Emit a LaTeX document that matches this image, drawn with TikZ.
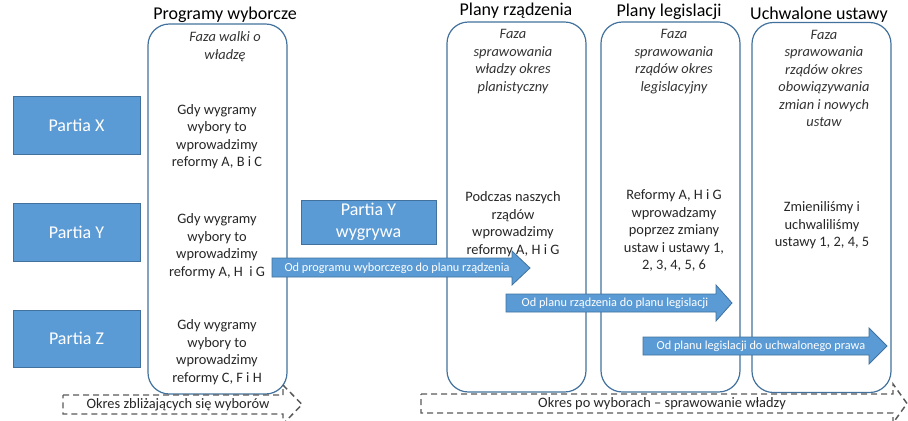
\documentclass[tikz,border=0pt]{standalone}
\usepackage{fontspec}
\setmainfont{Carlito}
\usepackage{xcolor}
\definecolor{boxblue}{RGB}{91,155,213}
\definecolor{lineblue}{RGB}{65,113,156}
\definecolor{dashgray}{RGB}{89,89,89}

\begin{document}
\begin{tikzpicture}[x=0.75pt,y=-0.75pt,
              party/.style={draw=lineblue,fill=boxblue,text=white,align=center,
                font=\fontsize{13.5}{16.5}\selectfont},
              column/.style={draw=lineblue,line width=0.9pt,rounded corners=16pt,
                minimum width=104.25pt,minimum height=277.5pt},
              title/.style={font=\fontsize{13.5}{16}\selectfont},
              phase/.style={align=center,text=black!80,font=\fontsize{10.8}{13.1}\selectfont\itshape},
              body/.style={align=center,text=black!85,font=\fontsize{10.8}{13.1}\selectfont},
              blockarrow/.style={draw=lineblue,fill=boxblue,line width=0.6pt},
              arrowtext/.style={text=white,font=\fontsize{9.2}{11}\selectfont},
              period/.style={draw=dashgray,line width=1.1pt,dash pattern=on 4.5pt off 3pt},
              periodtext/.style={text=black!85,font=\fontsize{10.8}{13.1}\selectfont}]
              \useasboundingbox (0,0) rectangle (908,421);

              \node[column] (K1) at (217.5,209)   {};
              \node[column] (K2) at (516.5,207)   {};
              \node[column] (K3) at (670.5,207)   {};
              \node[column] (K4) at (821.5,207.5) {};

              \node[title] (T1) at (225,15) {Programy wyborcze};
              \node[title] (T2) at (516,11) {Plany rządzenia};
              \node[title] (T3) at (669,12) {Plany legislacji};
              \node[title] (T4) at (819,15) {Uchwalone ustawy};

              \node[phase] (F1) at (225,46.5) {Faza walki o\\władzę};
              \node[phase] (F2) at (513,61.5) {Faza\\sprawowania\\władzy okres\\planistyczny};
              \node[phase] (F3) at (674,61.5) {Faza\\sprawowania\\rządów okres\\legislacyjny};
              \node[phase] (F4) at (824,78.5) {Faza\\sprawowania\\rządów okres\\obowiązywania\\zmian i nowych\\ustaw};

              \node[party,minimum width=95.25pt,minimum height=43.5pt] (P1) at (76.5,125)   {Partia X};
              \node[party,minimum width=95.25pt,minimum height=43.5pt] (P2) at (76.5,232)   {Partia Y};
              \node[party,minimum width=95.25pt,minimum height=42.75pt] (P3) at (76.5,338.5) {Partia Z};
              \node[party,minimum width=101.25pt,minimum height=33pt,inner sep=1pt] (W) at (368.5,222) {Partia Y\\wygrywa};

              \node[body] (R1) at (217,136.5) {Gdy wygramy\\wybory to\\wprowadzimy\\reformy A, B i C};
              \node[body] (R2) at (217,246)   {Gdy wygramy\\wybory to\\wprowadzimy\\reformy A, H~~i G};
              \node[body] (R3) at (217,352)   {Gdy wygramy\\wybory to\\wprowadzimy\\reformy C, F i H};
              \node[body] (R4) at (513,224)   {Podczas naszych\\rządów\\wprowadzimy\\reformy A, H i G};
              \node[body] (R5) at (674,230.5) {Reformy A, H i G\\wprowadzamy\\poprzez zmiany\\ustaw i ustawy 1,\\2, 3, 4, 5, 6};
              \node[body] (R6) at (822,225.5) {Zmieniliśmy i\\uchwaliliśmy\\ustawy 1, 2, 4, 5};

              \draw[blockarrow] (272,258) -- (512,258) -- (512,251) -- (530,268) -- (512,285) -- (512,277) -- (272,277) -- cycle;
              \draw[blockarrow] (506,294) -- (716,294) -- (716,285) -- (732,303) -- (716,321) -- (716,312) -- (506,312) -- cycle;
              \draw[blockarrow] (643,337) -- (869,337) -- (869,328) -- (887,346) -- (869,364) -- (869,355) -- (643,355) -- cycle;
              \node[arrowtext] (A1) at (397,268) {Od programu wyborczego do planu rządzenia};
              \node[arrowtext] (A2) at (615,303) {Od planu rządzenia do planu legislacji};
              \node[arrowtext] (A3) at (761,346) {Od planu legislacji do uchwalonego prawa};

              \draw[period] (63,395) -- (283,395) -- (283,385) -- (302,404.5) -- (283,424) -- (283,414) -- (63,414) -- cycle;
              \draw[period] (421,394) -- (893,394) -- (893,384) -- (907,403.5) -- (893,423) -- (893,413) -- (421,413) -- cycle;
              \node[periodtext] (O1) at (178,404.5) {Okres zbliżających się wyborów};
              \node[periodtext] (O2) at (662,403.5) {Okres po wyborach – sprawowanie władzy};
          \end{tikzpicture}
\end{document}
